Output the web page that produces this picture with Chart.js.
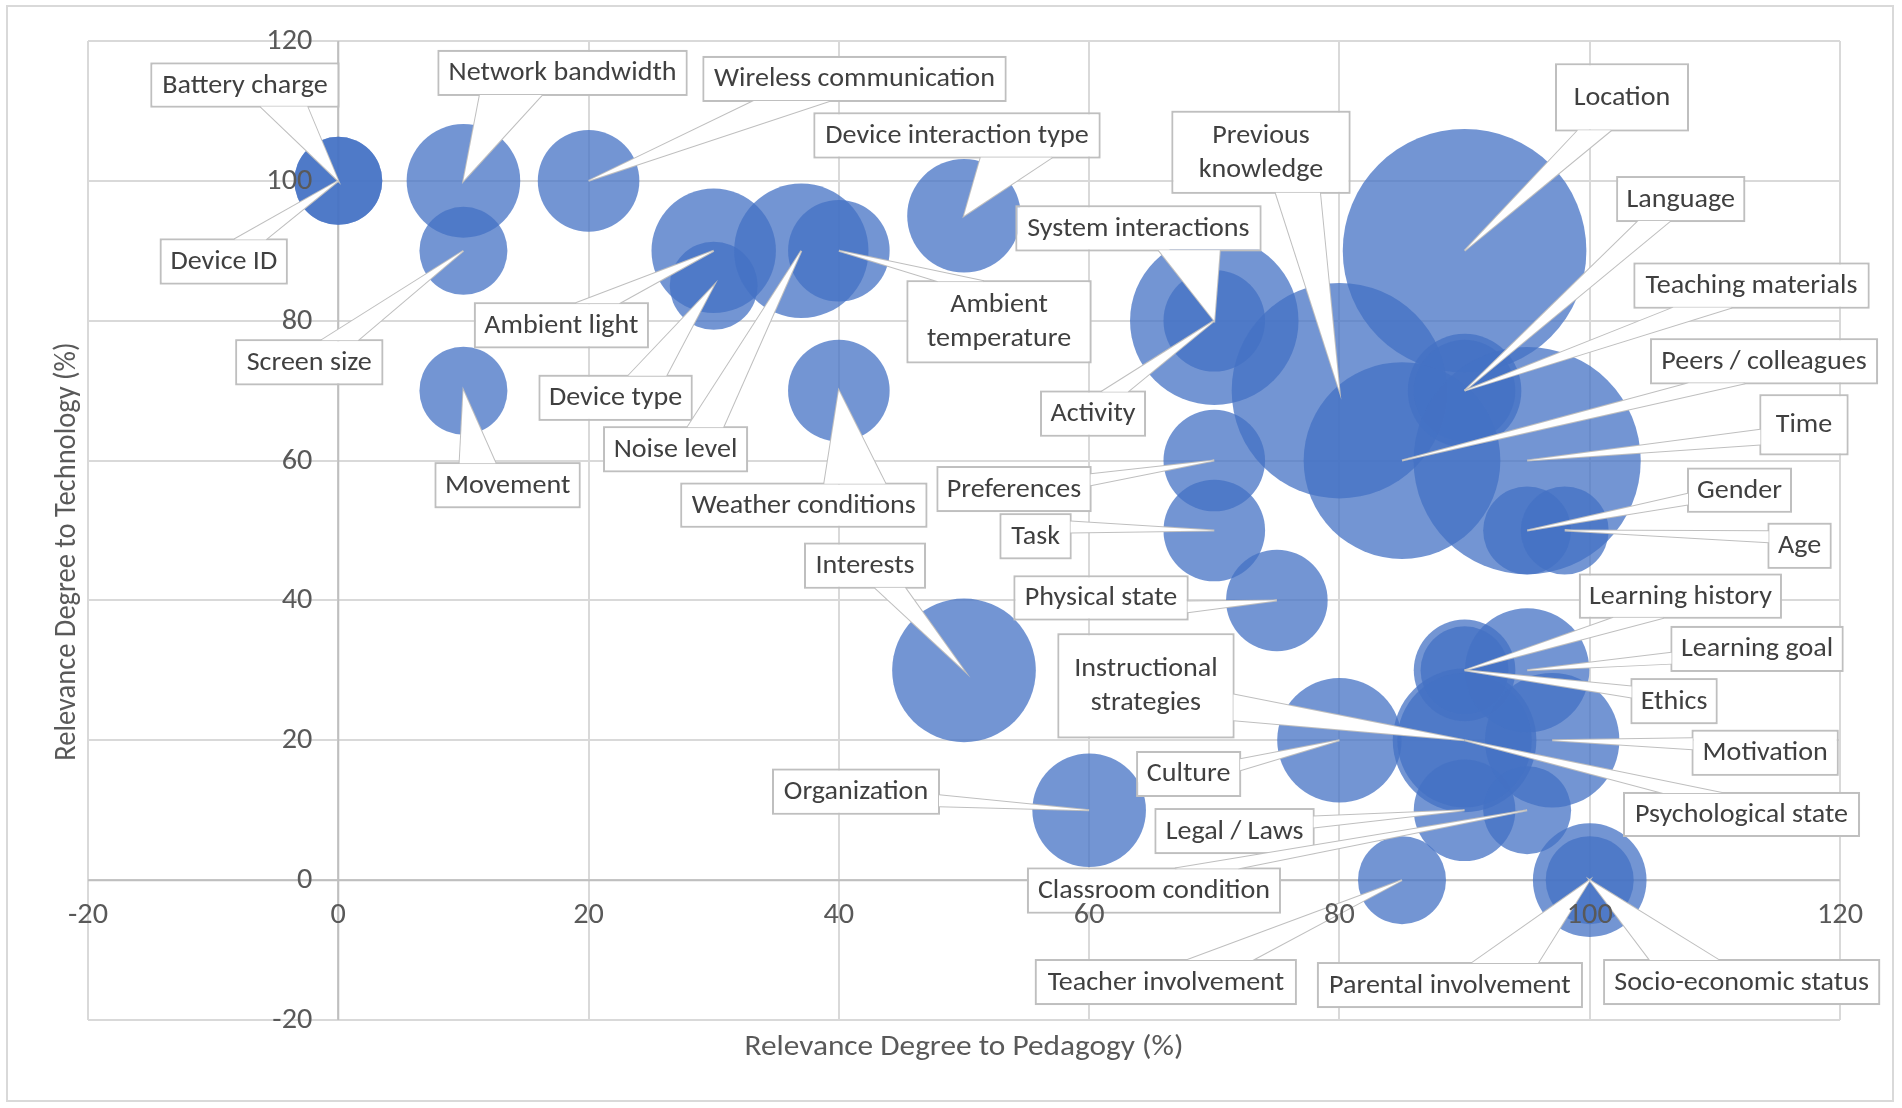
<!doctype html>
<html lang="en">
<head>
  <meta charset="utf-8">
  <title>Context factors: relevance to pedagogy and technology</title>
  <script src="https://cdn.jsdelivr.net/npm/chart.js"></script>
  <style>
    html, body { margin: 0; padding: 0; background: #fff; }
    #wrap { width: 1902px; height: 1108px; position: relative; }
  </style>
</head>
<body>
  <div id="wrap"><canvas id="bubbleChart"></canvas></div>
  <script>
    // context factors
    const factors = [
      'Battery charge', 'Device ID', 'Network bandwidth', 'Screen size', 'Movement',
      'Wireless communication', 'Ambient light', 'Device type', 'Noise level', 'Ambient temperature',
      'Weather conditions', 'Device interaction type', 'Interests', 'Organization', 'System interactions',
      'Activity', 'Preferences', 'Task', 'Physical state', 'Previous knowledge',
      'Culture', 'Peers / colleagues', 'Teacher involvement', 'Location', 'Language',
      'Teaching materials', 'Learning history', 'Ethics', 'Instructional strategies', 'Psychological state',
      'Legal / Laws', 'Time', 'Gender', 'Learning goal', 'Classroom condition',
      'Motivation', 'Age', 'Parental involvement', 'Socio-economic status'
    ];
    const pedagogy = [
      0, 0, 10, 10, 10,
      20, 30, 30, 37, 40,
      40, 50, 50, 60, 70,
      70, 70, 70, 75, 80,
      80, 85, 85, 90, 90,
      90, 90, 90, 90, 90,
      90, 95, 95, 95, 95,
      97, 98, 100, 100
    ];
    const technology = [
      100, 100, 100, 90, 70,
      100, 90, 85, 90, 90,
      70, 95, 30, 10, 80,
      80, 60, 50, 40, 70,
      20, 60, 0, 90, 70,
      70, 30, 30, 20, 20,
      10, 60, 50, 30, 10,
      20, 50, 0, 0
    ];
    const weight = [
      3, 3, 5, 3, 3,
      4, 6, 3, 7, 4,
      4, 5, 8, 5, 4,
      11, 4, 4, 4, 18,
      6, 15, 3, 23, 5,
      4, 4, 3, 8, 7,
      4, 20, 3, 6, 3,
      7, 3, 5, 3
    ];
    const axisTicks = [-20, 0, 20, 40, 60, 80, 100, 120];

    // callout boxes: centre in axis units, width / height in px
    const calloutBox = [
      [-7.46, 113.7, 187, 43], [-9.15, 88.47, 126, 44], [17.92, 115.43, 248, 44], [-2.32, 74.06, 146, 44], [13.53, 56.48, 144, 44],
      [41.25, 114.57, 302, 44], [17.83, 79.35, 173, 44], [22.16, 68.97, 152, 44], [26.95, 61.62, 143, 44], [52.8, 79.85, 183, 81],
      [37.2, 53.62, 245, 43], [49.44, 106.5, 285, 44], [42.09, 44.97, 120, 44], [41.37, 12.65, 166, 44], [63.94, 93.21, 244, 44],
      [60.31, 66.71, 104, 44], [54.0, 55.93, 153, 44], [55.72, 49.18, 70, 44], [60.95, 40.36, 173, 43], [73.73, 104.08, 177, 81],
      [67.95, 15.18, 103, 44], [113.93, 74.2, 226, 44], [66.13, -14.57, 260, 44], [102.58, 111.94, 132, 66], [107.27, 97.4, 127, 44],
      [112.93, 85.02, 234, 44], [107.25, 40.61, 201, 43], [106.74, 25.6, 85, 44], [64.54, 27.79, 175, 103], [112.13, 9.39, 235, 43],
      [71.62, 7.02, 158, 44], [117.12, 65.12, 87, 59], [111.97, 55.76, 103, 43], [113.37, 33.06, 171, 44], [65.18, -1.49, 252, 44],
      [114.02, 18.21, 145, 44], [116.77, 47.81, 62, 44], [88.83, -15.0, 264, 44], [112.14, -14.57, 275, 44]
    ];

    const FACE = 'Carlito, Lato, sans-serif';
    const LABEL_PX = 26;
    const TICK_PX = 28;
    const TITLE_PX = 29;
    const STRETCH = 1.08;    // the original picture is a little wider than tall
    const BUBBLE_K = 25.4;   // px per sqrt(size)

    function wideText(ctx, s, x, y) {
      ctx.save();
      ctx.translate(x, y);
      ctx.scale(STRETCH, 1);
      ctx.fillText(s, 0, 0);
      ctx.restore();
    }

    function drawCallout(ctx, l, t, w, h, tip, lines) {
      const cx = l + w / 2, cy = t + h / 2;
      const dxn = (tip.x - cx) / w, dyn = (tip.y - cy) / h;
      let b1 = null, b2 = null;
      if (Math.abs(dxn) > 0.5 || Math.abs(dyn) > 0.5) {
        if (Math.abs(dxn) > Math.abs(dyn)) {
          const ex = dxn > 0 ? l + w : l;
          const f = dyn > 0 ? [7, 10] : [2, 5];
          b1 = {x: ex, y: t + h * f[0] / 12}; b2 = {x: ex, y: t + h * f[1] / 12};
        } else {
          const ey = dyn > 0 ? t + h : t;
          const f = dxn > 0 ? [7, 10] : [2, 5];
          b1 = {x: l + w * f[0] / 12, y: ey}; b2 = {x: l + w * f[1] / 12, y: ey};
        }
      }
      ctx.strokeStyle = '#bfbfbf';
      ctx.lineWidth = 2;
      ctx.strokeRect(l, t, w, h);
      if (b1) {
        ctx.beginPath();
        ctx.moveTo(b1.x, b1.y);
        ctx.lineTo(tip.x, tip.y);
        ctx.lineTo(b2.x, b2.y);
        ctx.stroke();
        ctx.fillStyle = '#fff';
        ctx.fill();
      }
      ctx.fillStyle = '#fff';
      ctx.fillRect(l + 1, t + 1, w - 2, h - 2);
      ctx.fillStyle = '#404040';
      ctx.font = LABEL_PX + 'px ' + FACE;
      ctx.textAlign = 'center';
      ctx.textBaseline = 'middle';
      lines.forEach((s, k) => {
        wideText(ctx, s, cx, cy + (k - (lines.length - 1) / 2) * 34 + 1);
      });
    }

    const calloutPlugin = {
      id: 'callouts',
      beforeDraw(chart) {
        const ctx = chart.ctx;
        ctx.save();
        ctx.strokeStyle = '#d9d9d9';
        ctx.lineWidth = 2;
        ctx.strokeRect(7, 6, chart.width - 16, chart.height - 13);
        ctx.restore();
      },
      beforeDatasetsDraw(chart) {
        // axis lines cross at zero
        const {ctx, chartArea} = chart;
        const x0 = chart.scales.x.getPixelForValue(0), y0 = chart.scales.y.getPixelForValue(0);
        ctx.save();
        ctx.strokeStyle = '#bfbfbf';
        ctx.lineWidth = 2;
        ctx.beginPath();
        ctx.moveTo(chartArea.left, y0); ctx.lineTo(chartArea.right, y0);
        ctx.moveTo(x0, chartArea.top); ctx.lineTo(x0, chartArea.bottom);
        ctx.stroke();
        ctx.restore();
      },
      afterDatasetsDraw(chart) {
        const {ctx, chartArea} = chart;
        const xs = chart.scales.x, ys = chart.scales.y;
        ctx.save();
        factors.forEach((name, i) => {
          const [bx, by, w, h] = calloutBox[i];
          const cx = xs.getPixelForValue(bx), cy = ys.getPixelForValue(by);
          const tip = {x: xs.getPixelForValue(pedagogy[i]), y: ys.getPixelForValue(technology[i])};
          const lines = h > 70 ? name.split(' ') : [name];
          drawCallout(ctx, cx - w / 2, cy - h / 2, w, h, tip, lines);
        });

        // tick labels sit on the axes that cross at zero
        const x0 = xs.getPixelForValue(0), y0 = ys.getPixelForValue(0);
        ctx.fillStyle = '#595959';
        ctx.font = TICK_PX + 'px ' + FACE;
        ctx.textBaseline = 'middle';
        ctx.textAlign = 'center';
        xs.ticks.forEach(t => wideText(ctx, String(t.label ?? t.value), xs.getPixelForValue(t.value), y0 + 36));
        ctx.textAlign = 'right';
        ys.ticks.forEach(t => wideText(ctx, String(t.label ?? t.value), x0 - 26, ys.getPixelForValue(t.value) + 1));

        // axis titles
        ctx.textAlign = 'center';
        ctx.font = TITLE_PX + 'px ' + FACE;
        wideText(ctx, 'Relevance Degree to Pedagogy (%)', (chartArea.left + chartArea.right) / 2, chartArea.bottom + 28);
        ctx.translate(chartArea.left - 21, (chartArea.top + chartArea.bottom) / 2 + 21);
        ctx.scale(STRETCH, 1);
        ctx.rotate(-Math.PI / 2);
        ctx.font = '28.5px ' + FACE;
        ctx.fillText('Relevance Degree to Technology (%)', 0, 0);
        ctx.restore();
      }
    };

    const points = factors.map((name, i) => ({
      x: pedagogy[i], y: technology[i], r: BUBBLE_K * Math.sqrt(weight[i])
    }));

    const tickSet = scale => { scale.ticks = axisTicks.map(v => ({value: v})); };
    const gridStyle = { color: '#d9d9d9', lineWidth: 2, drawTicks: false };

    new Chart(document.getElementById('bubbleChart'), {
      type: 'bubble',
      data: {
        datasets: [{
          label: 'Context factors',
          data: points,
          backgroundColor: 'rgba(68, 114, 196, 0.75)',
          borderWidth: 0,
          hoverRadius: 0
        }]
      },
      options: {
        responsive: true,
        maintainAspectRatio: false,
        animation: false,
        devicePixelRatio: 1,
        events: [],
        layout: { autoPadding: false, padding: { left: 88, top: 41, right: 62, bottom: 88 } },
        plugins: {
          legend: { display: false },
          tooltip: { enabled: false }
        },
        scales: {
          x: {
            type: 'linear', min: -20, max: 120, position: 'bottom',
            afterBuildTicks: tickSet,
            grid: gridStyle,
            border: { display: false },
            ticks: { display: false }
          },
          y: {
            type: 'linear', min: -20, max: 120, position: 'left',
            afterBuildTicks: tickSet,
            grid: gridStyle,
            border: { display: false },
            ticks: { display: false }
          }
        }
      },
      plugins: [calloutPlugin]
    });
  </script>
</body>
</html>
